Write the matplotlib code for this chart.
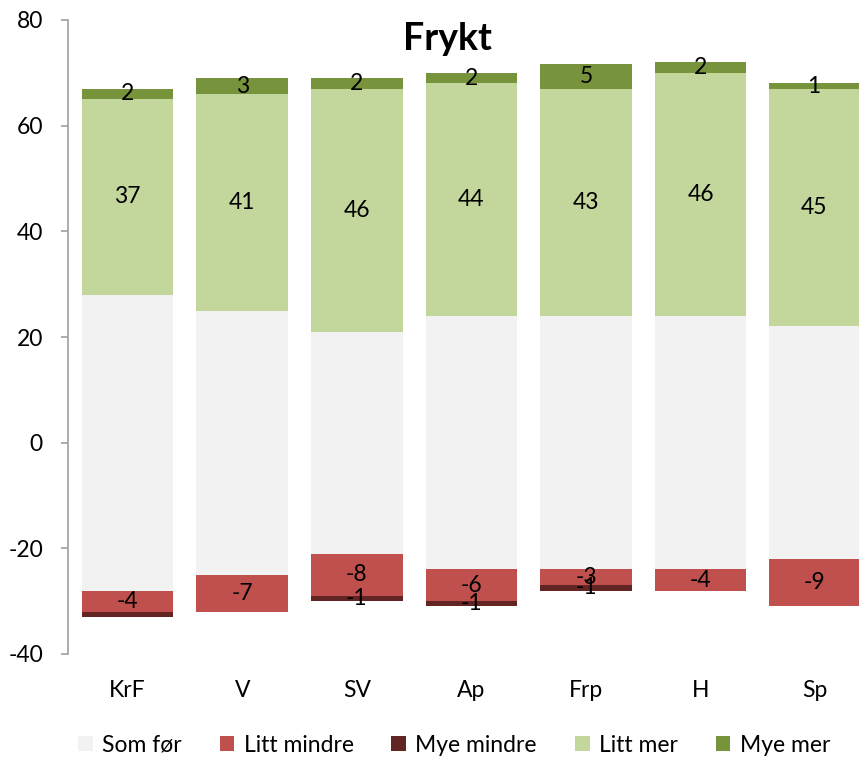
import matplotlib.pyplot as plt

plt.rcParams['font.family'] = ['Lato', 'DejaVu Sans']
plt.rcParams['axes.unicode_minus'] = False

# partier og verdier (prosent)
partier = ["KrF", "V", "SV", "Ap", "Frp", "H", "Sp"]
som_for = [56, 50, 42, 48, 48, 48, 44]          # deles likt rundt 0
litt_mindre = [4, 7, 8, 6, 3, 4, 9]
mye_mindre = [1, 0, 1, 1, 1, 0, 0]
litt_mer = [37, 41, 46, 44, 43, 46, 45]
mye_mer = [2, 3, 2, 2, 4.6, 2, 1]

lab_litt_mindre = ["-4", "-7", "-8", "-6", "-3", "-4", "-9"]
lab_mye_mindre = ["", "", "-1", "-1", "-1", "", ""]
lab_litt_mer = ["37", "41", "46", "44", "43", "46", "45"]
lab_mye_mer = ["2", "3", "2", "2", "5", "2", "1"]

farger = {"Som før": "#F2F2F2", "Litt mindre": "#C0504D", "Mye mindre": "#632523",
          "Litt mer": "#C3D69B", "Mye mer": "#77933C"}

fs = 16.5

fig = plt.figure(figsize=(8.59, 7.6), dpi=100)
ax = fig.add_axes([68 / 859, 1 - 654 / 760, 791 / 859, 634 / 760])

x = range(len(partier))
halv = [s / 2 for s in som_for]
b = 0.8

ax.bar(x, som_for, b, bottom=[-h for h in halv], color=farger["Som før"], label="Som før")
lm_bunn = [-h - v for h, v in zip(halv, litt_mindre)]
c1 = ax.bar(x, litt_mindre, b, bottom=lm_bunn, color=farger["Litt mindre"], label="Litt mindre")
mm_bunn = [l - v for l, v in zip(lm_bunn, mye_mindre)]
c2 = ax.bar(x, mye_mindre, b, bottom=mm_bunn, color=farger["Mye mindre"], label="Mye mindre")
c3 = ax.bar(x, litt_mer, b, bottom=halv, color=farger["Litt mer"], label="Litt mer")
mer_bunn = [h + v for h, v in zip(halv, litt_mer)]
c4 = ax.bar(x, mye_mer, b, bottom=mer_bunn, color=farger["Mye mer"], label="Mye mer")

for c, labs in [(c1, lab_litt_mindre), (c2, lab_mye_mindre), (c3, lab_litt_mer), (c4, lab_mye_mer)]:
    ax.bar_label(c, labels=labs, label_type="center", fontsize=fs, color="black")

ax.set_ylim(-40, 80)
ax.set_xlim(-0.52, -0.52 + 791 / 114.6)
ax.set_yticks(range(-40, 81, 20))
ax.set_xticks(list(x))
ax.set_xticklabels(partier)
ax.tick_params(axis="y", labelsize=fs, length=5, width=1.2, color="#A0A0A0", pad=13)
ax.tick_params(axis="x", labelsize=fs, length=0, pad=19)
for s in ["top", "right", "bottom"]:
    ax.spines[s].set_visible(False)
ax.spines["left"].set_color("#A0A0A0")
ax.spines["left"].set_linewidth(1.2)

fig.text(447 / 859, 1 - 39 / 760, "Frykt", ha="center", va="center", fontsize=27, fontweight="bold")

fig.legend(loc="center", bbox_to_anchor=(454 / 859, 1 - 745 / 760), ncol=5, frameon=False,
           fontsize=fs, handlelength=0.65, handleheight=0.65, handletextpad=0.4, columnspacing=1.65)

fig.savefig("out.png", dpi=100)
